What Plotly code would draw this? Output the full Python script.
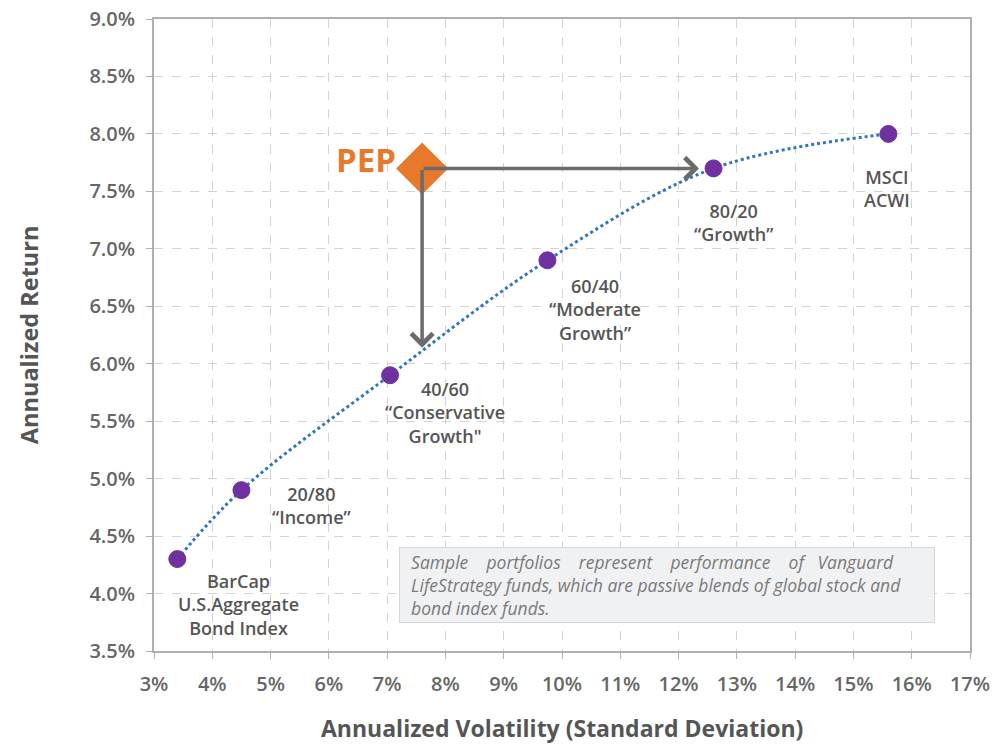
import plotly.graph_objects as go

# Data
names = ["BarCap<br>U.S.Aggregate<br>Bond Index", "20/80<br>“Income”", "40/60<br>“Conservative<br>Growth\"",
         "60/40<br>“Moderate<br>Growth”", "80/20<br>“Growth”", "MSCI<br>ACWI"]
volatility = [3.4, 4.5, 7.05, 9.75, 12.6, 15.6]
returns = [4.3, 4.9, 5.9, 6.9, 7.7, 8.0]
label_dx = [1.05, 1.2, 0.95, 0.82, 0.35, -0.03]
label_dy = [-0.065, 0.09, 0.0, -0.1, -0.25, -0.25]

pep_vol = [7.6]
pep_ret = [7.7]
pep_arrow_right_end = 12.35
pep_arrow_down_end = 6.14

x_ticks = list(range(3, 18))
y_ticks = [3.5, 4.0, 4.5, 5.0, 5.5, 6.0, 6.5, 7.0, 7.5, 8.0, 8.5, 9.0]

font = "Open Sans, Noto Sans, sans-serif"
label_color = "#555555"

fig = go.Figure()

fig.add_trace(go.Scatter(x=volatility, y=returns, mode="lines",
                         line=dict(color="#2f74c4", width=3, dash="dot", shape="spline", smoothing=1.0),
                         hoverinfo="skip", showlegend=False))
fig.add_trace(go.Scatter(x=volatility, y=returns, mode="markers",
                         marker=dict(color="#7030a0", size=17, line=dict(color="#6a35a8", width=1)),
                         showlegend=False))

# arrows
fig.add_annotation(x=pep_arrow_right_end, y=pep_ret[0], ax=pep_vol[0], ay=pep_ret[0],
                   xref="x", yref="y", axref="x", ayref="y", text="", showarrow=True,
                   arrowhead=4, arrowsize=1.2, arrowwidth=3.5, arrowcolor="#6b6b6b")
fig.add_annotation(x=pep_vol[0], y=pep_arrow_down_end, ax=pep_vol[0], ay=pep_ret[0],
                   xref="x", yref="y", axref="x", ayref="y", text="", showarrow=True,
                   arrowhead=4, arrowsize=1.2, arrowwidth=3.5, arrowcolor="#6b6b6b")

fig.add_trace(go.Scatter(x=pep_vol, y=pep_ret, mode="markers",
                         marker=dict(symbol="diamond", color="#e8782a", size=40),
                         showlegend=False))
fig.add_annotation(x=pep_vol[0], y=pep_ret[0], xref="x", yref="y", text="<b>PEP</b>",
                   showarrow=False, xanchor="right", xshift=-24, yshift=9,
                   font=dict(family=font, size=33, color="#e8782a"))

for n, xv, yv, dx, dy in zip(names, volatility, returns, label_dx, label_dy):
    fig.add_annotation(x=xv + dx, y=yv + dy, xref="x", yref="y", text=n,
                       showarrow=False, xanchor="center", yanchor="top", align="center",
                       font=dict(family=font, size=18, color=label_color, weight=600))

fig.add_annotation(x=7.2, y=4.405, xref="x", yref="y", xanchor="left", yanchor="top", align="left",
                   text="<i>&nbsp;&nbsp;Sample&nbsp;&nbsp;&nbsp; portfolios&nbsp;&nbsp;&nbsp; represent&nbsp;&nbsp;&nbsp; performance&nbsp;&nbsp;&nbsp; of&nbsp;&nbsp; Vanguard<br>"
                        "&nbsp;&nbsp;LifeStrategy funds, which are passive blends of global stock and<br>"
                        "&nbsp;&nbsp;bond index funds.</i>",
                   showarrow=False, bgcolor="#f0f1f3", bordercolor="#d4d6da", borderwidth=1, borderpad=2,
                   width=530, font=dict(family=font, size=17.5, color="#7a7a7a"))

fig.add_annotation(x=0.5, y=-0.122, xref="paper", yref="paper", xanchor="center", yanchor="middle",
                   text="<b>Annualized Volatility (Standard Deviation)</b>", showarrow=False,
                   font=dict(family=font, size=23, color=label_color))
fig.add_annotation(x=-0.153, y=0.5, xref="paper", yref="paper", xanchor="center", yanchor="middle",
                   text="<b>Annualized Return</b>", showarrow=False, textangle=-90,
                   font=dict(family=font, size=23.5, color=label_color))

fig.update_layout(
    width=993, height=744,
    margin=dict(l=154, r=23, t=19, b=93),
    plot_bgcolor="white", paper_bgcolor="white",
    font=dict(family=font, color="#666666"),
    showlegend=False,
)
fig.update_xaxes(range=[3, 17], tickvals=x_ticks, ticktext=[f"{v}%" for v in x_ticks],
                 showgrid=True, gridcolor="#d3d3d3", griddash="dash", gridwidth=1,
                 showline=True, linecolor="#b0b0b0", linewidth=2, mirror=True, automargin=False,
                 ticks="outside", ticklen=6, tickcolor="#b0b0b0", zeroline=False, ticklabelstandoff=8,
                 tickfont=dict(family=font, size=20, color="#666666", weight=600))
fig.update_yaxes(range=[3.5, 9.0], tickvals=y_ticks, ticktext=[f"{v:.1f}%" for v in y_ticks],
                 showgrid=True, gridcolor="#d3d3d3", griddash="dash", gridwidth=1,
                 showline=True, linecolor="#b0b0b0", linewidth=2, mirror=True, automargin=False,
                 ticks="outside", ticklen=6, tickcolor="#b0b0b0", zeroline=False, ticklabelstandoff=7,
                 tickfont=dict(family=font, size=20, color="#666666", weight=600))

fig.write_html("out.html", config={"displayModeBar": False},
               post_script="document.body.style.margin='0';document.body.style.overflow='hidden';")
